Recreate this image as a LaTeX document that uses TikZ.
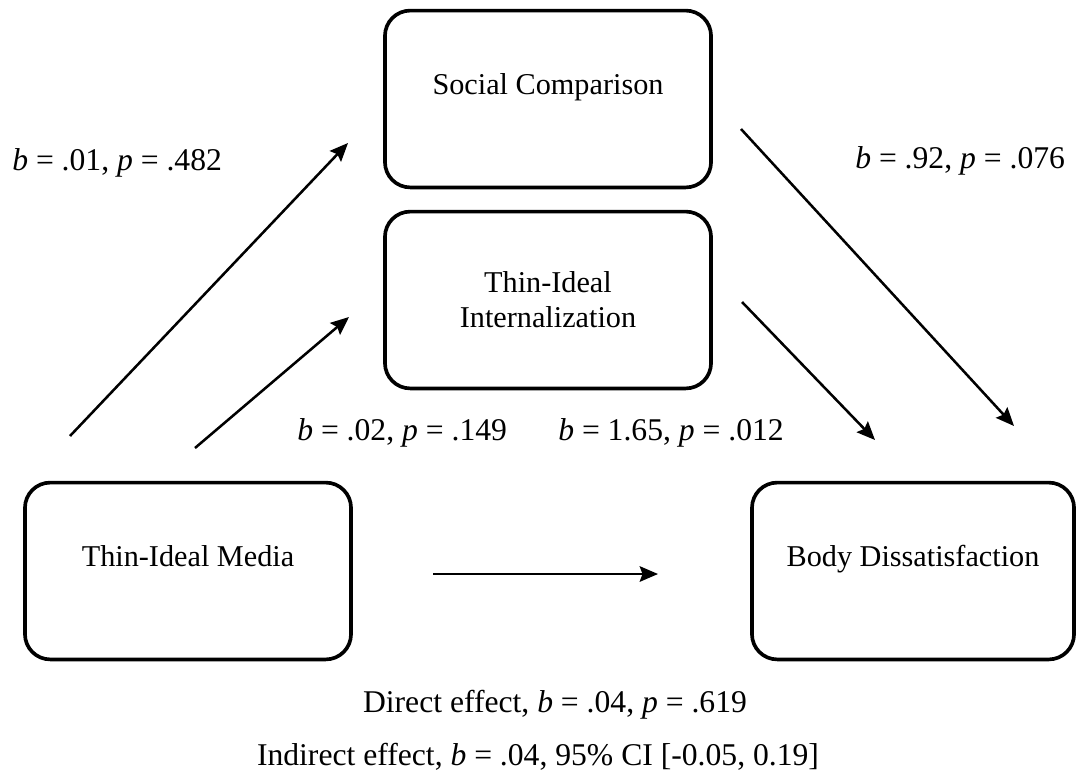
\documentclass[tikz,border=0pt]{standalone}
\usepackage{fontspec}
\setmainfont{Liberation Serif}
\usetikzlibrary{arrows.meta}

\begin{document}
\begin{tikzpicture}[x=0.025cm,y=-0.025cm,
    box/.style={draw,line width=2.6pt,rounded corners=18pt,minimum width=8.15cm,
      minimum height=4.42cm,align=center,font=\fontsize{21.5}{25}\selectfont},
    oneline/.style={text height=14pt,text depth=20pt},
    lbl/.style={anchor=base west,inner sep=0pt,font=\fontsize{22.5}{27}\selectfont},
    >={Stealth[length=13pt,width=11pt,inset=2pt]}]
      \useasboundingbox (0,0) rectangle (1076,778);
      \node[box,oneline] (social) at (548,99) {Social Comparison};
      \node[box] (thin) at (548,300) {Thin-Ideal\\Internalization};
      \node[box,oneline] (media) at (188,571) {Thin-Ideal Media};
      \node[box,oneline,minimum width=8.05cm] (body) at (913,571) {Body Dissatisfaction};
      % arrow ends
      \coordinate (ms0) at (70,436);   \coordinate (ms1) at (348,143);
      \coordinate (mt0) at (195,448);  \coordinate (mt1) at (349,317);
      \coordinate (sb0) at (741,129);  \coordinate (sb1) at (1014,426);
      \coordinate (tb0) at (742,302);  \coordinate (tb1) at (875,440);
      \coordinate (mb0) at (433,574);  \coordinate (mb1) at (658,574);
      \path[->,line width=1.8pt]
      (ms0) edge (ms1)
      (mt0) edge (mt1)
      (sb0) edge (sb1)
      (tb0) edge (tb1)
      (mb0) edge (mb1);
      \node[lbl] (lms) at (12,170) {\textit{b} = .01, \textit{p} = .482};
      \node[lbl] (lsb) at (855,168) {\textit{b} = .92, \textit{p} = .076};
      \node[lbl] (lmt) at (297,440) {\textit{b} = .02, \textit{p} = .149};
      \node[lbl] (ltb) at (558,440) {\textit{b} = 1.65, \textit{p} = .012};
      \node[lbl,anchor=base] (ldir) at (555,712) {Direct effect, \textit{b} = .04, \textit{p} = .619};
      \node[lbl,anchor=base] (lind) at (538,765) {Indirect effect, \textit{b} = .04, 95\% CI [-0.05, 0.19]};
    \end{tikzpicture}
\end{document}
